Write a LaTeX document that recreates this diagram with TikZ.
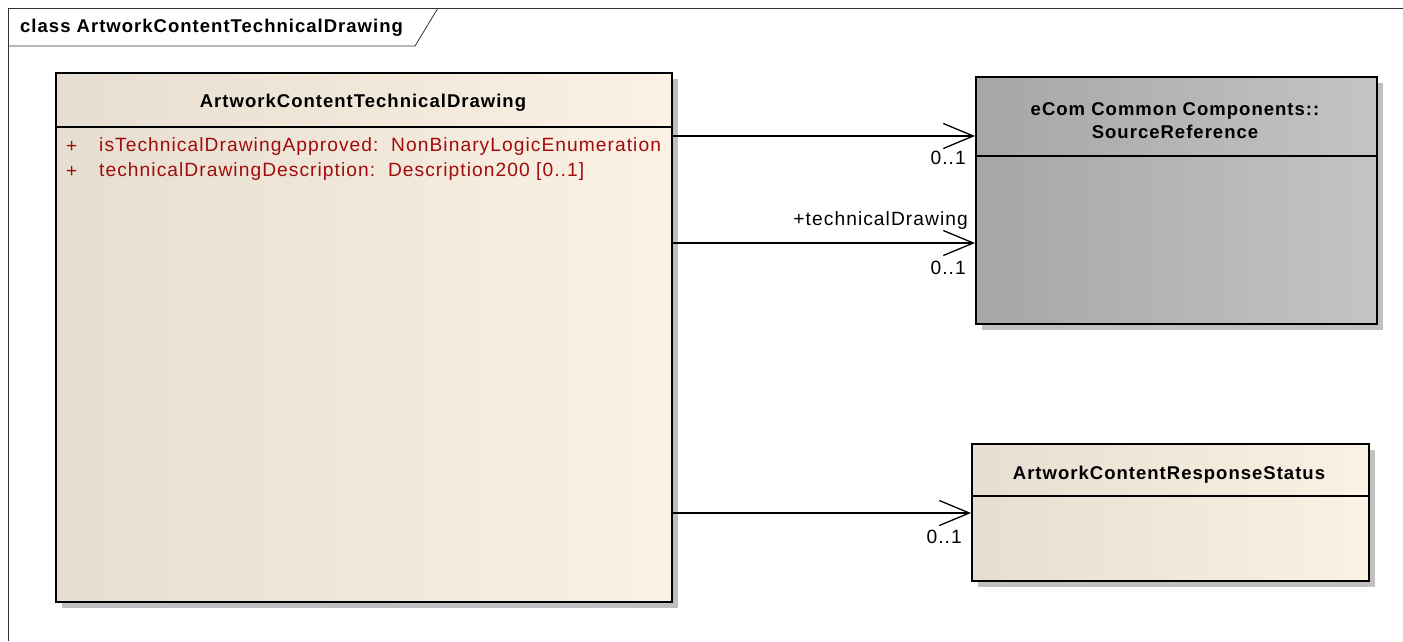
\documentclass[tikz,border=0pt]{standalone}
\usepackage{fontspec}
\setmainfont{Liberation Sans}[LetterSpace=5.5]
\usetikzlibrary{arrows.meta, shadows}

\definecolor{clsleft}{RGB}{230,222,208}
\definecolor{clsright}{RGB}{251,241,228}
\definecolor{refleft}{RGB}{166,166,166}
\definecolor{refright}{RGB}{196,196,196}
\definecolor{attrred}{RGB}{160,12,12}
\definecolor{shadowgray}{RGB}{192,192,192}

\tikzset{
    umlclass/.style={draw=black, line width=1.6pt, rectangle, anchor=north west, inner sep=0pt,
        drop shadow={shadow xshift=6pt, shadow yshift=-6pt, fill=shadowgray, opacity=1}},
    clsfill/.style={left color=clsleft, middle color=clsright, right color=clsright},
    reffill/.style={left color=refleft, right color=refright},
    assoc/.style={line width=1.3pt, -{Straight Barb[length=30pt, width=25pt, line width=1.3pt]}},
    clstitle/.style={font=\fontsize{18.5}{23}\selectfont\bfseries, align=center},
    attr/.style={font=\fontsize{19.2}{23}\selectfont, text=attrred, anchor=west, inner sep=0pt},
    mult/.style={font=\fontsize{19.2}{23}\selectfont, anchor=east, inner sep=0pt}
}

\begin{document}
\begin{tikzpicture}[x=1pt, y=-1pt]
    \useasboundingbox (0,0) rectangle (1403,641);

    % Cadre du diagramme
    \draw[line width=0.8pt, black!80] (8,641) -- (8,8) -- (1403,8);
    \draw[line width=0.8pt, black!80] (8,46) -- (415,46) -- (438,8);
    \node[font=\fontsize{18.5}{23}\selectfont\bfseries, anchor=west, inner sep=0pt] (frametitle) at (20,28) {class ArtworkContentTechnicalDrawing};

    % Classe principale
    \node[umlclass, clsfill, minimum width=616pt, minimum height=529pt] (tcd) at (55,72) {};
    \draw[line width=1.6pt] (tcd.west |- 0,127) -- (tcd.east |- 0,127);
    \node[clstitle] (tcdname) at (363,103) {ArtworkContentTechnicalDrawing};

    % Attributs
    \foreach \y/\n/\txt in {147/attra/{isTechnicalDrawingApproved:\ \ NonBinaryLogicEnumeration},
                           172/attrb/{technicalDrawingDescription:\ \ Description200 [0..1]}} {
        \node[attr] (\n plus) at (66,\y) {+};
        \node[attr] (\n) at (99,\y) {\txt};
    }

    % Classe SourceReference
    \node[umlclass, reffill, minimum width=401pt, minimum height=247pt] (src) at (975,76) {};
    \draw[line width=1.6pt] (src.west |- 0,156) -- (src.east |- 0,156);
    \node[clstitle] (srcname) at (1175,121) {eCom Common Components::\\SourceReference};

    % Classe ArtworkContentResponseStatus
    \node[umlclass, clsfill, minimum width=397pt, minimum height=137pt] (resp) at (971,443) {};
    \draw[line width=1.6pt] (resp.west |- 0,496) -- (resp.east |- 0,496);
    \node[clstitle] (respname) at (1169,475) {ArtworkContentResponseStatus};

    % Associations
    \draw[assoc] (tcd.east |- 0,136) -- (src.west |- 0,136);
    \node[mult] (m1) at (966,158) {0..1};

    \draw[assoc] (tcd.east |- 0,243) -- (src.west |- 0,243);
    \node[mult] (role2) at (968,221) {+technicalDrawing};
    \node[mult] (m2) at (966,268) {0..1};

    \draw[assoc] (tcd.east |- 0,513) -- (resp.west |- 0,513);
    \node[mult] (m3) at (962,537) {0..1};

\end{tikzpicture}
\end{document}
